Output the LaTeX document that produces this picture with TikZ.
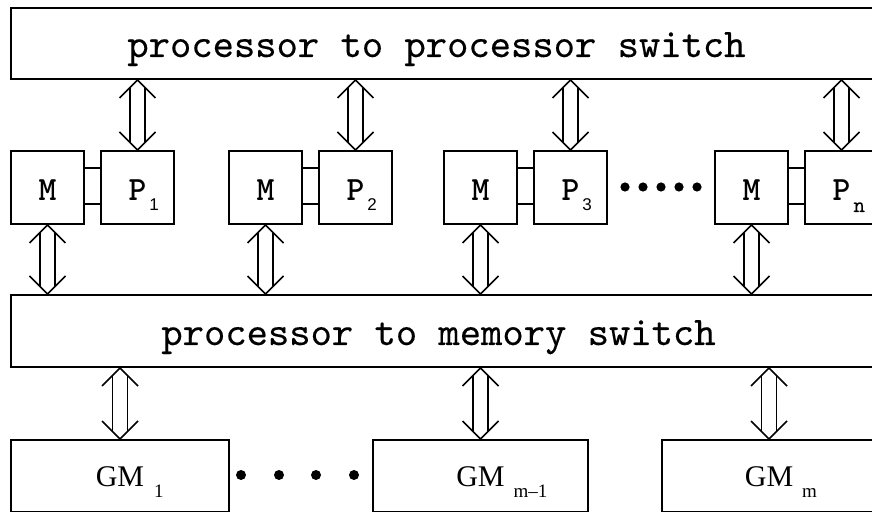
\documentclass[tikz,border=0pt]{standalone}
\usepackage{fontspec}
\newfontfamily\fsans{Liberation Sans}
\newfontfamily\fserif{Liberation Serif}
\newfontfamily\fmonob{lmmonolt10-bold.otf}
\newfontfamily\fmonosw{lmmono10-regular.otf}[FakeBold=0.25]
\usetikzlibrary{calc}
\tikzset{
  box/.style={draw, line width=1pt, inner sep=0pt, anchor=north west},
  swbox/.style={box, minimum width=440pt},
  mpbox/.style={box, minimum width=36.5pt, minimum height=36.5pt,
    text height=13.5pt, text depth=0pt,
    font=\fmonob\fontsize{17}{18}\selectfont},
  gmbox/.style={box, minimum height=36pt, text height=11pt, text depth=0pt,
    font=\fserif\fontsize{15}{17}\selectfont},
  swtext/.style={inner sep=0pt, anchor=base west,
    font=\fmonosw\fontsize{20.3}{22}\selectfont},
  arrowline/.style={line width=0.85pt},
  link/.style={line width=1pt},
  dotsmall/.style={circle, fill, inner sep=0pt, minimum size=4.6pt},
  dotbig/.style={circle, fill, inner sep=0pt, minimum size=5pt}
}
\newcommand\biarrow[2]{%
  \draw[arrowline] ($(#1)+(-18,18)$) -- (#1) -- ($(#1)+(18,18)$);
  \draw[arrowline] ($(#2)+(-18,-18)$) -- (#2) -- ($(#2)+(18,-18)$);
  \draw[arrowline] ($(#1)+(-7.5,7.5)$) -- ($(#2)+(-7.5,-7.5)$);
  \draw[arrowline] ($(#1)+(7.5,7.5)$) -- ($(#2)+(7.5,-7.5)$);
}
\newcommand\psub[1]{P\rlap{\hspace{1.5pt}\raisebox{-5pt}{\fsans\fontsize{8.5}{9}\selectfont #1}}}
\newcommand\gmsub[2]{GM\rlap{\hspace{#1}\raisebox{-5.5pt}{\fontsize{9.5}{10}\selectfont #2}}}
\begin{document}
\begin{tikzpicture}[x=0.5pt,y=-0.5pt]
\useasboundingbox (0,0) rectangle (872,512);
\clip (0,0) rectangle (872,512);
% switches
\node[swbox, minimum height=35.5pt] (sw1) at (10,7) {};
\node[swtext] (sw1t) at (127,57) {processor to processor switch};
\node[swbox, minimum height=36pt] (sw2) at (10,294) {};
\node[swtext] (sw2t) at (161,345) {processor to memory switch};
% M and P boxes
\node[mpbox] (m1) at (10,150) {M};
\node[mpbox] (p1) at (100,150) {\psub{1}};
\node[mpbox] (m2) at (228,150) {M};
\node[mpbox] (p2) at (318,150) {\psub{2}};
\node[mpbox] (m3) at (443,150) {M};
\node[mpbox] (p3) at (533,150) {\psub{3}};
\node[mpbox] (m4) at (714,150) {M};
\node[mpbox] (p4) at (804,150) {P\rlap{\hspace{1.5pt}\raisebox{-5.5pt}{\fmonosw\fontsize{11}{12}\selectfont n}}};
% M-P links
\foreach \i in {1,2,3,4}{
  \draw[link] ($(m\i.north east)+(0,18.5)$) -- ($(p\i.north west)+(0,18.5)$);
  \draw[link] ($(m\i.north east)+(0,54.5)$) -- ($(p\i.north west)+(0,54.5)$);
}
% dots
\foreach \x [count=\k] in {625,643,661,679,697}{
  \node[dotsmall] (td\k) at (\x,187) {};
}
% GM boxes
\node[gmbox, minimum width=109pt] (g1) at (10,439) {\gmsub{5pt}{1}};
\node[gmbox, minimum width=107.5pt] (g2) at (372,439) {\gmsub{4.5pt}{m\textendash 1}};
\node[gmbox, minimum width=107pt] (g3) at (661,439) {\gmsub{4.5pt}{m}};
\foreach \x [count=\k] in {241,279,316,354}{
  \node[dotbig] (bd\k) at (\x,475) {};
}
% arrows
\foreach \i in {1,2,3,4}{
  \biarrow{p\i.north |- sw1.south}{p\i.north}
  \biarrow{m\i.south}{m\i.south |- sw2.north}
}
\foreach \i in {1,2,3}{
  \biarrow{g\i.north |- sw2.south}{g\i.north}
}
\end{tikzpicture}
\end{document}
